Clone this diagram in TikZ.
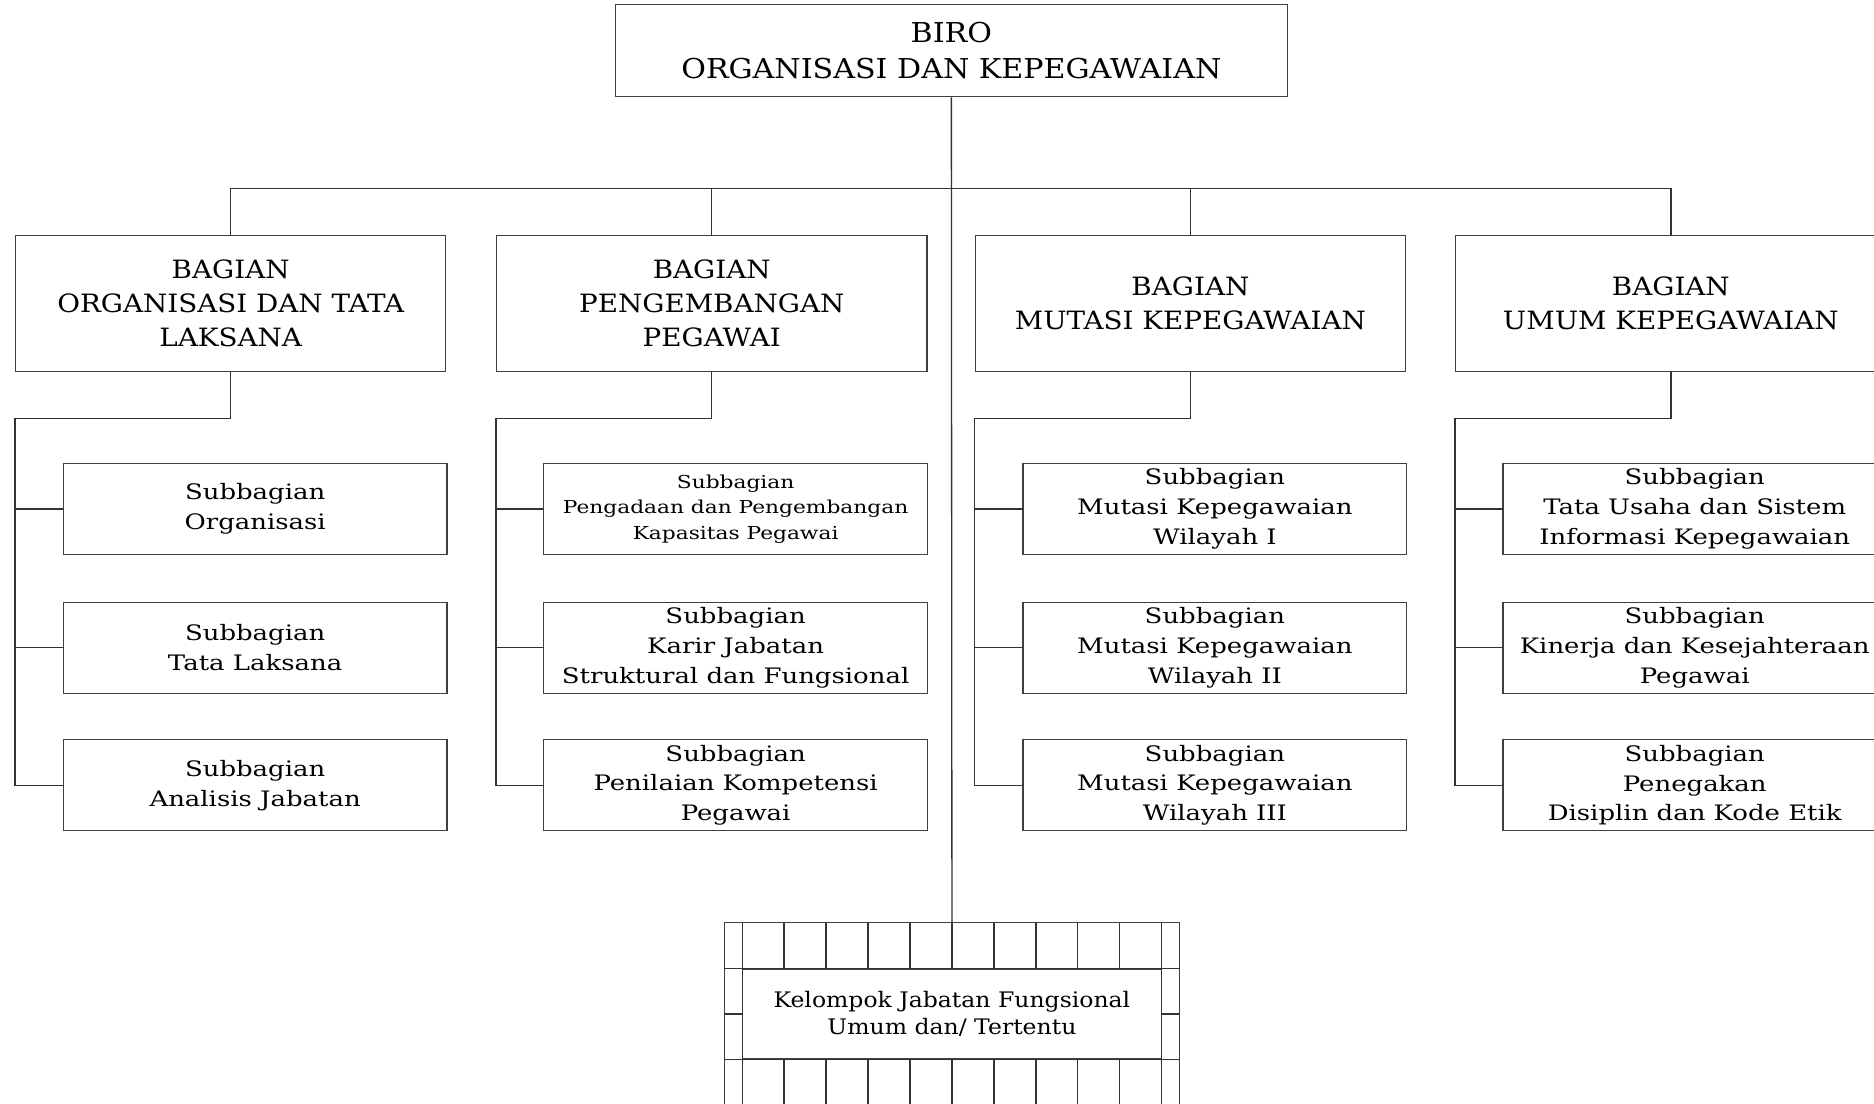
\documentclass[tikz,border=0pt]{standalone}
\usepackage{fontspec}
\setmainfont{DejaVu Serif}[FakeStretch=1.1]
\newfontfamily\subserif{DejaVu Serif}[FakeStretch=1.22]
\begin{document}
\begin{tikzpicture}[x=1pt,y=-1pt,line width=1.1pt,
  link/.style={draw=black!80},
  boxtop/.style={draw=black!75,minimum width=562pt,minimum height=77pt,inner sep=0pt,align=center,font=\fontsize{22.9}{30}\selectfont},
  bagbox/.style={draw=black!75,minimum width=360pt,minimum height=114pt,inner sep=0pt,align=center,font=\fontsize{21.1}{28.5}\selectfont},
  subbox/.style={draw=black!75,minimum width=321pt,minimum height=76pt,inner sep=0pt,align=center,font=\subserif\fontsize{17.8}{25}\selectfont},
  subsmall/.style={subbox,font=\subserif\fontsize{14.9}{21.5}\selectfont},
  jfbox/.style={draw=black!75,minimum width=351pt,minimum height=75pt,inner sep=0pt,align=center,font=\fontsize{17.9}{23}\selectfont},
  jfframe/.style={draw=black!75,minimum width=381pt,minimum height=158pt,inner sep=0pt}]
\clip (0,0) rectangle (1568,923);
\fill[white] (0,0) rectangle (1568,923);

% head of the bureau
\node[boxtop] (biro) at (796,42.5) {BIRO\\ORGANISASI DAN KEPEGAWAIAN};

% the four sections
\node[bagbox] (bag1) at (193,254)    {BAGIAN\\ORGANISASI DAN TATA\\LAKSANA};
\node[bagbox] (bag2) at (595.5,254)  {BAGIAN\\PENGEMBANGAN\\PEGAWAI};
\node[bagbox] (bag3) at (996,254)    {BAGIAN\\MUTASI KEPEGAWAIAN};
\node[bagbox] (bag4) at (1398,254)   {BAGIAN\\UMUM KEPEGAWAIAN};

% subsections
\node[subbox] (s11) at (213.5,426) {Subbagian\\Organisasi};
\node[subbox] (s12) at (213.5,542) {Subbagian\\Tata Laksana};
\node[subbox] (s13) at (213.5,657) {Subbagian\\Analisis Jabatan};

\node[subsmall] (s21) at (615.5,426) {Subbagian\\Pengadaan dan Pengembangan\\Kapasitas Pegawai};
\node[subbox] (s22) at (615.5,542) {Subbagian\\Karir Jabatan\\Struktural dan Fungsional};
\node[subbox] (s23) at (615.5,657) {Subbagian\\Penilaian Kompetensi\\Pegawai};

\node[subbox] (s31) at (1016.5,426) {Subbagian\\Mutasi Kepegawaian\\Wilayah I};
\node[subbox] (s32) at (1016.5,542) {Subbagian\\Mutasi Kepegawaian\\Wilayah II};
\node[subbox] (s33) at (1016.5,657) {Subbagian\\Mutasi Kepegawaian\\Wilayah III};

\node[subbox] (s41) at (1418,426) {Subbagian\\Tata Usaha dan Sistem\\Informasi Kepegawaian};
\node[subbox] (s42) at (1418,542) {Subbagian\\Kinerja dan Kesejahteraan\\Pegawai};
\node[subbox] (s43) at (1418,657) {Subbagian\\Penegakan\\Disiplin dan Kode Etik};

% functional group block
\node[jfframe] (jfo) at (796.5,851) {};
\node[jfbox] (jf) at (796.5,848.5) {Kelompok Jabatan Fungsional\\Umum dan/ Tertentu};
\foreach \x in {621,972} \draw[link] (\x,772) -- (\x,930);
\foreach \x in {656.1,691.2,726.3,761.4,796.5,831.6,866.7,901.8,936.9} {
  \draw[link] (\x,772) -- (\x,811);
  \draw[link] (\x,886) -- (\x,930);
}
\draw[link] (jfo.west |- jf.north) -- (jfo.east |- jf.north);
\draw[link] (jfo.west |- jf.south) -- (jfo.east |- jf.south);
\draw[link] (jfo.west |- jf.west) -- (jf.west);
\draw[link] (jf.east) -- (jfo.east |- jf.east);

% connectors
\coordinate (hub) at (796,158);
\draw[link] (biro.south) -- (jfo.north);
\draw[link] (bag1.north) -- (bag1.north |- hub) -- (bag4.north |- hub) -- (bag4.north);
\draw[link] (bag2.north) -- (bag2.north |- hub);
\draw[link] (bag3.north) -- (bag3.north |- hub);

\coordinate (rail) at (0,350);
\foreach \b in {1,2,3,4} {
  \coordinate (k\b) at (bag\b.west |- rail);
  \draw[link] (bag\b.south) |- (k\b) |- (s\b3.west);
  \draw[link] (k\b |- s\b1.west) -- (s\b1.west);
  \draw[link] (k\b |- s\b2.west) -- (s\b2.west);
}
\end{tikzpicture}
\end{document}
